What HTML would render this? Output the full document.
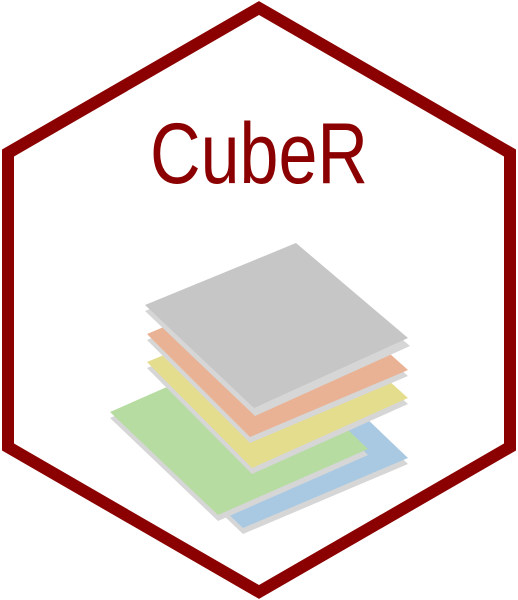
<!DOCTYPE html>
<html><head><meta charset="utf-8"><style>html,body{margin:0;padding:0;background:#fff}svg{display:block}</style></head>
<body>
<svg width="518" height="600" viewBox="0 0 518 600">
<polygon points="259,8 8,153 8,447 259,592 510,447 510,153" fill="#fff" stroke="#8b0000" stroke-width="12"/>
<text x="259" y="183" text-anchor="middle" font-family="Liberation Sans, sans-serif" font-size="86" fill="#8b0000" textLength="218" lengthAdjust="spacingAndGlyphs">CubeR</text>
<g>
 <g>
  <polygon points="133,429 298,359 408,464 243,534" fill="#d6d6d6"/>
  <polygon points="133,423 298,353 408,458 243,528" fill="#a9c9e2"/>
 </g>
 <g>
  <polygon points="110,418 260,352 368,455 218,521" fill="#d6d6d6"/>
  <polygon points="110,412 260,346 368,449 218,515" fill="#b6dca2"/>
 </g>
 <g>
  <polygon points="147,368 298,305 408,404 252,474" fill="#d6d6d6"/>
  <polygon points="147,362 298,299 408,398 252,468" fill="#e5dd8e"/>
 </g>
 <g>
  <polygon points="147,340 297,277 408,376 250,443" fill="#d6d6d6"/>
  <polygon points="147,334 297,271 408,370 250,437" fill="#e9b294"/>
 </g>
 <g>
  <polygon points="145,311 296,249 410,346 255,416" fill="#d6d6d6"/>
  <polygon points="145,305 296,243 408,338 254,408" fill="#c6c6c6"/>
 </g>
</g>
</svg>
</body></html>
